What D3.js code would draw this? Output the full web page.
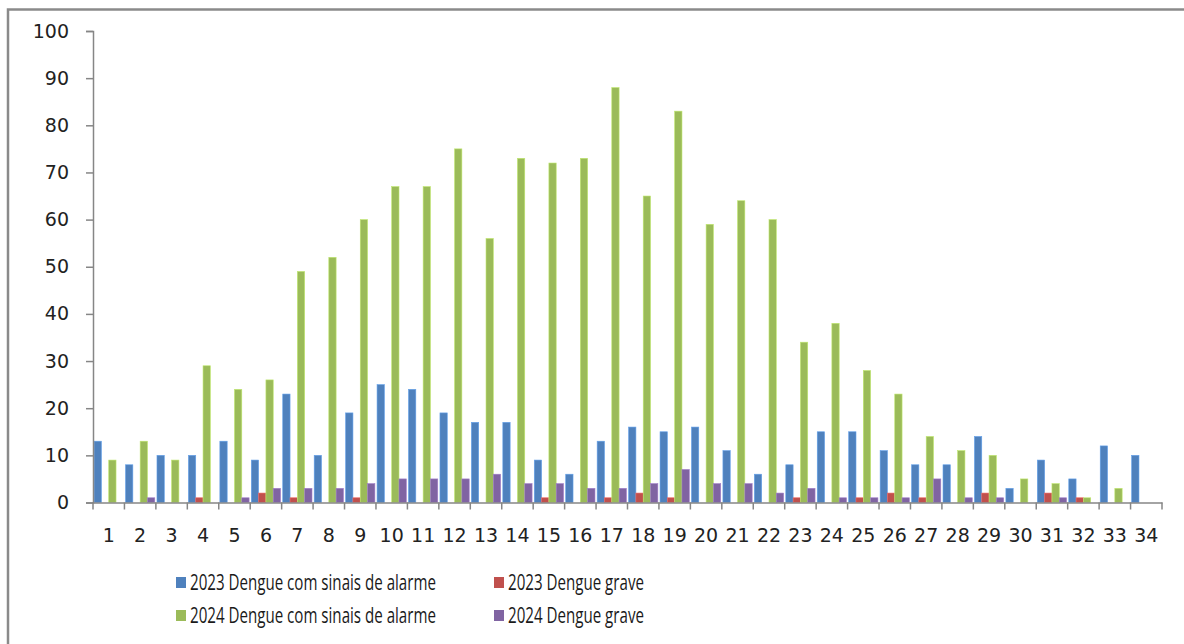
<!DOCTYPE html>
<html lang="pt">
<head>
    <meta charset="UTF-8">
    <title>Dengue com sinais de alarme e dengue grave, 2023 x 2024</title>
    <style>
        body {
            margin: 0;
            background: #fff;
        }
        svg {
            display: block;
        }
        .axis text {
            font-family: "DejaVu Sans", Verdana, sans-serif;
            font-size: 19px;
            fill: #222;
        }
        .legend text {
            font-family: "Open Sans", "Noto Sans", sans-serif;
            font-size: 21.5px;
            fill: #1a1a1a;
        }
    </style>
    <script src="https://cdn.jsdelivr.net/npm/d3@7"></script>
</head>
<body>
    <svg width="1184" height="644"></svg>

    <script>
        const weeks = ["1","2","3","4","5","6","7","8","9","10","11","12","13","14","15","16","17",
                       "18","19","20","21","22","23","24","25","26","27","28","29","30","31","32","33","34"];

        const alarme2023 = [13,8,10,10,13,9,23,10,19,25,24,19,17,17,9,6,13,16,15,16,11,6,8,15,15,11,8,8,14,3,9,5,12,10];
        const grave2023  = [0,0,0,1,0,2,1,0,1,0,0,0,0,0,1,0,1,2,1,0,0,0,1,0,1,2,1,0,2,0,2,1,0,0];
        const alarme2024 = [9,13,9,29,24,26,49,52,60,67,67,75,56,73,72,73,88,65,83,59,64,60,34,38,28,23,14,11,10,5,4,1,3,0];
        const grave2024  = [0,1,0,0,1,3,3,3,4,5,5,5,6,4,4,3,3,4,7,4,4,2,3,1,1,1,5,1,1,0,1,0,0,0];

        const seriesNames = [
            "2023 Dengue com sinais de alarme",
            "2023 Dengue grave",
            "2024 Dengue com sinais de alarme",
            "2024 Dengue grave"
        ];
        const seriesValues = [alarme2023, grave2023, alarme2024, grave2024];
        const colors = ["#4f81bd", "#c0504d", "#9bbb59", "#8064a2"];
        const yTicks = [0, 10, 20, 30, 40, 50, 60, 70, 80, 90, 100];

        const svg = d3.select("svg");

        // frame around the chart (only top and left edges are visible)
        svg.append("path")
            .attr("d", "M8,644 V9.5 H1184")
            .attr("fill", "none")
            .attr("stroke", "#8a8a8a")
            .attr("stroke-width", 2.5);

        const plot = {left: 93, right: 1162, top: 31, bottom: 502.5};

        const x = d3.scaleBand()
            .domain(weeks)
            .range([plot.left, plot.right])
            .padding(0);

        const gap = x.bandwidth() * 0.07;
        const x1 = d3.scaleBand()
            .domain(d3.range(seriesNames.length))
            .range([gap / 2, x.bandwidth() - gap / 2]);

        const y = d3.scaleLinear()
            .domain([0, 100])
            .range([plot.bottom, plot.top]);

        // bars (zero values are not drawn)
        const rows = [];
        seriesValues.forEach((vals, s) => {
            vals.forEach((v, i) => {
                if (v > 0) rows.push({week: weeks[i], s, v});
            });
        });

        svg.append("g")
            .selectAll("rect")
            .data(rows)
            .join("rect")
            .attr("x", d => x(d.week) + x1(d.s))
            .attr("y", d => y(d.v))
            .attr("width", x1.bandwidth())
            .attr("height", d => y(0) - y(d.v))
            .attr("fill", d => colors[d.s])
            .attr("stroke", d => d3.color(colors[d.s]).brighter(0.6))
            .attr("stroke-width", 0.6);

        // y axis
        const yAxis = svg.append("g")
            .attr("class", "axis")
            .attr("transform", `translate(${plot.left},0)`)
            .call(d3.axisLeft(y).tickValues(yTicks).tickSize(7).tickPadding(17));
        yAxis.select(".domain").attr("stroke", "#868686").attr("stroke-width", 1.5);
        yAxis.selectAll(".tick line").attr("stroke", "#868686").attr("stroke-width", 1.5);

        // x axis: ticks sit on category boundaries, labels in the middle
        const xAxis = svg.append("g")
            .attr("class", "axis")
            .attr("transform", `translate(0,${plot.bottom})`)
            .call(d3.axisBottom(x).tickSize(0).tickPadding(26));
        xAxis.select(".domain").attr("stroke", "#868686").attr("stroke-width", 1.5);

        svg.append("g")
            .selectAll("line")
            .data(weeks.concat(["end"]))
            .join("line")
            .attr("x1", (d, i) => i < weeks.length ? x(d) : plot.right)
            .attr("x2", (d, i) => i < weeks.length ? x(d) : plot.right)
            .attr("y1", plot.bottom)
            .attr("y2", plot.bottom + 7)
            .attr("stroke", "#868686")
            .attr("stroke-width", 1.5);

        // legend
        const legendPos = [
            {x: 176, y: 577}, {x: 494, y: 577},
            {x: 176, y: 610}, {x: 494, y: 610}
        ];
        const legend = svg.append("g")
            .attr("class", "legend")
            .selectAll("g")
            .data(seriesNames)
            .join("g")
            .attr("transform", (d, i) => `translate(${legendPos[i].x},${legendPos[i].y})`);

        legend.append("rect")
            .attr("width", 10)
            .attr("height", 11)
            .attr("fill", (d, i) => colors[i]);

        const labels = legend.append("text")
            .text(d => d);

        // the original uses a narrow font; squeeze horizontally to the same width
        const longest = d3.max(labels.nodes(), n => n.getComputedTextLength());
        const squeeze = 246 / longest;
        labels.attr("transform", `translate(14,13) scale(${squeeze},1)`);
    </script>
</body>
</html>
